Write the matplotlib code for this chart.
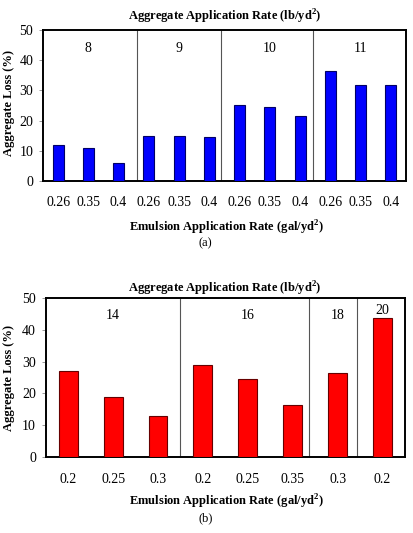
import matplotlib
matplotlib.use("Agg")
import matplotlib.pyplot as plt
import numpy as np

plt.rcParams['font.family'] = ['Liberation Serif', 'DejaVu Serif']
plt.rcParams['mathtext.fontset'] = 'custom'
plt.rcParams['mathtext.rm'] = 'Liberation Serif'
plt.rcParams['mathtext.bf'] = 'Liberation Serif:bold'

# Panel (a)
a_emulsion = ["0.26", "0.35", "0.4", "0.26", "0.35", "0.4",
              "0.26", "0.35", "0.4", "0.26", "0.35", "0.4"]
a_loss = [12.0, 10.8, 6.1, 14.9, 14.9, 14.7, 25.1, 24.4, 21.6, 36.5, 31.9, 31.7]
a_groups = ["8", "9", "10", "11"]
a_group_sizes = [3, 3, 3, 3]

# Panel (b)
b_emulsion = ["0.2", "0.25", "0.3", "0.2", "0.25", "0.35", "0.3", "0.2"]
b_loss = [27.0, 19.0, 13.0, 28.9, 24.5, 16.4, 26.3, 43.7]
b_groups = ["14", "16", "18", "20"]
b_group_sizes = [3, 3, 1, 1]

fig = plt.figure(figsize=(4.13, 5.33), dpi=100)

def panel(rect, labels, vals, groups, sizes, color, edge, barw, label_y, sep_shift, title_y, xlabel_y, tag, tag_y, ylab_y):
    ax = fig.add_axes(rect)
    x = np.arange(len(vals))
    ax.bar(x, vals, width=barw, color=color, edgecolor=edge, linewidth=0.8, zorder=3)
    ax.set_xlim(-0.5, len(vals) - 0.5)
    ax.set_ylim(0, 50)
    ax.set_yticks([0, 10, 20, 30, 40, 50])
    ax.set_xticks(x)
    ax.set_xticklabels(labels)
    ax.tick_params(axis='x', length=0, pad=11, labelsize=10)
    ax.tick_params(axis='y', length=3, width=0.6, color='#888888', pad=4, labelsize=10)
    for s in ax.spines.values():
        s.set_linewidth(1.4)
        s.set_color('black')
    start = 0
    for i, (g, n) in enumerate(zip(groups, sizes)):
        center = start + (n - 1) / 2
        ly = label_y[i] if isinstance(label_y, list) else label_y
        ax.text(center, ly, g, ha='center', va='center', fontsize=10)
        start += n
        if i < len(groups) - 1:
            xs = start - 0.5 + sep_shift[i]
            ax.axvline(xs, color='#555555', linewidth=0.8, zorder=2)
    fig.text(0.545, title_y, 'Aggregate Application Rate (lb/yd$^\\mathbf{2}$)',
             ha='center', va='center', fontsize=9, fontweight='bold')
    fig.text(0.548, xlabel_y, 'Emulsion Application Rate (gal/yd$^\\mathbf{2}$)',
             ha='center', va='center', fontsize=9, fontweight='bold')
    fig.text(0.497, tag_y, tag, ha='center', va='center', fontsize=9)
    fig.text(0.023, ylab_y, 'Aggregate Loss (%)', rotation=90, ha='center', va='center',
             fontsize=9, fontweight='bold')
    return ax

panel([0.104, 0.6604, 0.879, 0.2833], a_emulsion, a_loss, a_groups, a_group_sizes,
      '#0000FF', '#000066', 0.36, 44, [0.1, -0.1, -0.07], 0.968, 0.572, '(a)', 0.544, 0.807)

panel([0.1107, 0.1420, 0.870, 0.2995], b_emulsion, b_loss, b_groups, b_group_sizes,
      '#FF0000', '#660000', 0.42, [44.5, 44.5, 44.5, 46], [0.0, -0.13, -0.08], 0.458, 0.058, '(b)', 0.0276, 0.291)

fig.savefig('out.png', dpi=100)
